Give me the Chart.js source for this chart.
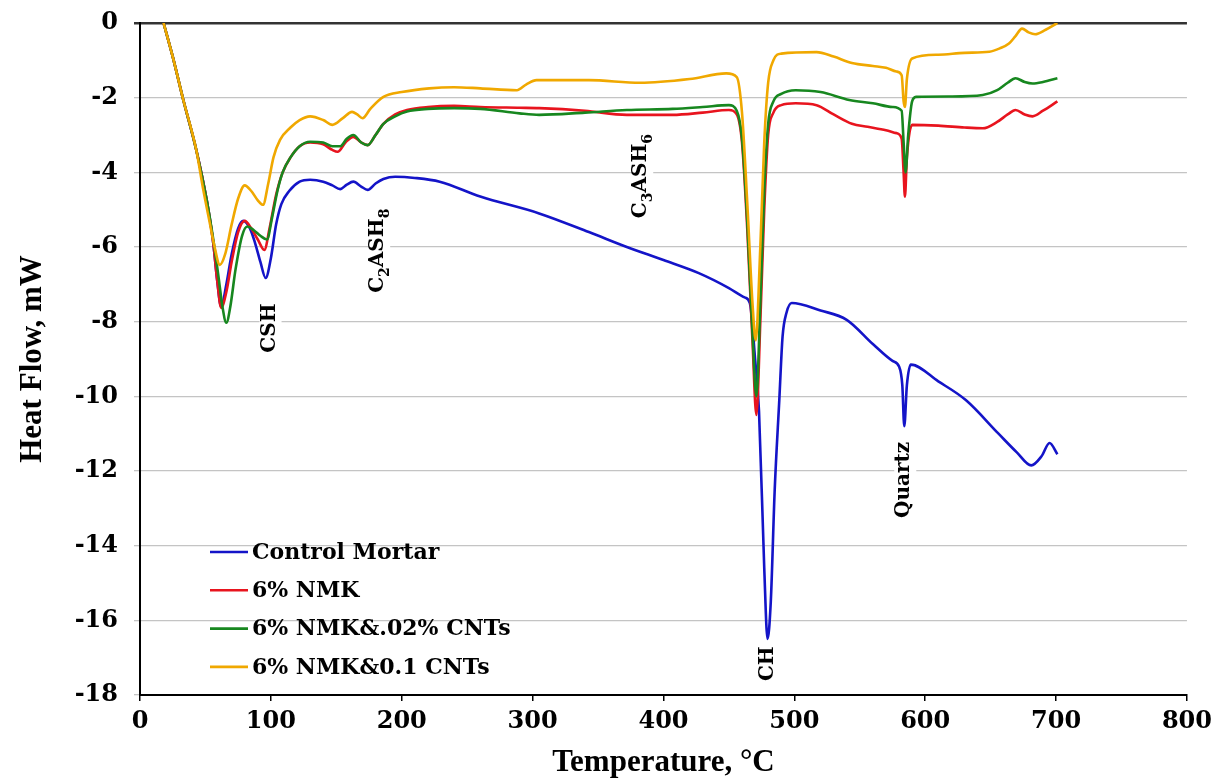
<!DOCTYPE html>
<html>
<head>
<meta charset="utf-8">
<script src="https://cdn.jsdelivr.net/npm/chart.js@4.4.1/dist/chart.umd.min.js"></script>
<style>
  body { margin: 0; background: #fff; }
  canvas { display: block; }
</style>
</head>
<body>
<canvas id="dsc" width="1218" height="784"></canvas>
<script>
// DSC curves, temperature (°C) against heat flow (mW)
const controlT = [18, 25, 33, 43, 51, 56, 59, 62, 66, 70, 75, 79, 84, 88, 92, 96, 100, 104, 108, 114, 122, 130, 140, 147, 153, 158, 163, 169, 174, 180, 186, 195, 210, 229, 260, 305, 343, 372, 400, 427, 450, 462, 466, 470, 473, 477, 479.5, 482, 485, 488.5, 491, 494, 498, 520, 540, 560, 575, 580, 582.5, 584, 586, 589, 610, 631, 656, 670, 681, 689, 695, 701];
const controlH = [0, -0.9, -2.05, -3.4, -4.75, -5.9, -6.9, -7.6, -7.0, -6.2, -5.5, -5.3, -5.5, -5.9, -6.4, -6.83, -6.3, -5.4, -4.85, -4.5, -4.25, -4.2, -4.25, -4.35, -4.45, -4.33, -4.25, -4.38, -4.47, -4.3, -4.18, -4.12, -4.15, -4.25, -4.65, -5.1, -5.6, -6.0, -6.35, -6.7, -7.1, -7.35, -7.5, -9.0, -10.4, -14.6, -16.5, -15.5, -12.5, -10.1, -8.4, -7.76, -7.5, -7.7, -7.95, -8.6, -9.05, -9.2, -9.7, -10.8, -9.7, -9.15, -9.6, -10.1, -11.0, -11.5, -11.85, -11.6, -11.25, -11.55];

const nmkT = [18, 25, 33, 43, 51, 56, 59, 62, 66, 70, 75, 80, 85, 90, 95, 99, 104, 109, 115, 122, 130, 140, 147, 151, 157, 163, 169, 174, 180, 186, 195, 204, 220, 240, 260, 290, 305, 340, 372, 407, 430, 450, 456, 460, 464, 468, 471, 474, 477, 480, 484, 490, 501, 517, 530, 544, 556, 570, 578, 582, 583.5, 584.5, 586, 590, 610, 630, 644, 655, 663, 669, 676, 682, 690, 701];
const nmkH = [0, -0.9, -2.05, -3.4, -4.75, -5.9, -6.9, -7.63, -7.2, -6.4, -5.6, -5.3, -5.5, -5.8, -6.08, -5.5, -4.6, -4.0, -3.6, -3.3, -3.2, -3.25, -3.4, -3.45, -3.2, -3.05, -3.2, -3.27, -3.0, -2.7, -2.45, -2.33, -2.25, -2.22, -2.25, -2.27, -2.28, -2.35, -2.46, -2.46, -2.4, -2.33, -2.45, -3.2, -5.5, -8.5, -10.5, -8.0, -5.0, -3.0, -2.4, -2.2, -2.15, -2.2, -2.45, -2.7, -2.78, -2.87, -2.95, -3.1, -4.0, -4.65, -3.6, -2.73, -2.75, -2.8, -2.82, -2.65, -2.45, -2.33, -2.45, -2.5, -2.35, -2.1];

const cnt02T = [18, 25, 33, 43, 51, 56, 60, 63, 66, 69, 73, 78, 82, 87, 92, 97, 101, 105, 109, 115, 122, 130, 140, 147, 153, 158, 163, 169, 174, 180, 186, 195, 204, 220, 240, 260, 290, 305, 340, 372, 407, 430, 450, 456, 460, 464, 468, 471, 474, 477, 480, 484, 490, 501, 520, 542, 560, 575, 582, 583.5, 585, 587, 590, 593, 620, 644, 655, 663, 669, 676, 682, 690, 701];
const cnt02H = [0, -0.9, -2.05, -3.4, -4.75, -5.8, -6.8, -7.6, -8.03, -7.6, -6.6, -5.7, -5.45, -5.55, -5.7, -5.8, -5.2, -4.5, -4.0, -3.6, -3.3, -3.18, -3.2, -3.3, -3.3, -3.1, -3.0, -3.2, -3.27, -3.0, -2.7, -2.5, -2.37, -2.3, -2.28, -2.3, -2.42, -2.46, -2.4, -2.33, -2.3, -2.25, -2.2, -2.35, -3.1, -5.3, -8.3, -10.0, -7.5, -4.5, -2.7, -2.1, -1.9, -1.8, -1.85, -2.06, -2.15, -2.25, -2.35, -3.2, -4.0, -3.0, -2.1, -1.98, -1.97, -1.93, -1.8, -1.6, -1.48, -1.58, -1.62, -1.58, -1.48];

const cnt01T = [18, 25, 33, 43, 48, 53, 57, 61, 65, 70, 75, 80, 85, 90, 94, 98, 102, 107, 115, 122, 130, 140, 147, 155, 162, 166, 170, 176, 186, 200, 221, 240, 260, 288, 295, 303, 343, 382, 420, 448, 456, 460, 464, 468, 470.5, 474, 477, 480, 484, 490, 517, 530, 544, 560, 570, 578, 582, 583.5, 584.5, 586, 590, 610, 630, 649, 657, 664, 669, 674, 679, 684, 692, 701];
const cnt01H = [0, -0.9, -2.05, -3.4, -4.4, -5.3, -6.0, -6.48, -6.2, -5.4, -4.7, -4.35, -4.5, -4.75, -4.87, -4.3, -3.6, -3.13, -2.8, -2.6, -2.5, -2.6, -2.73, -2.55, -2.38, -2.45, -2.55, -2.3, -1.98, -1.85, -1.75, -1.72, -1.75, -1.8, -1.65, -1.53, -1.53, -1.6, -1.5, -1.35, -1.45, -2.4, -4.8, -7.5, -8.5, -6.0, -3.2, -1.6, -1.0, -0.82, -0.78, -0.9, -1.07, -1.15, -1.2, -1.3, -1.4, -2.1, -2.25, -1.5, -0.95, -0.85, -0.8, -0.77, -0.68, -0.55, -0.35, -0.15, -0.25, -0.3, -0.18, 0];

const seriesNames = ['Control Mortar', '6% NMK', '6% NMK&.02% CNTs', '6% NMK&0.1 CNTs'];
const seriesColors = ['#1414c8', '#e8141e', '#17871f', '#f0a800'];

// peak labels; "_n" marks a subscript
const peakNames = ['CSH', 'C_2ASH_8', 'C_3ASH_6', 'CH', 'Quartz'];
const peakTemps = [99, 182, 383, 480, 584];
const peakHeats = [-8.17, -6.1, -4.1, -17.16, -12.24];

const pts = (xs, ys) => xs.map((x, i) => ({ x: x, y: ys[i] }));
const allT = [controlT, nmkT, cnt02T, cnt01T];
const allH = [controlH, nmkH, cnt02H, cnt01H];

const datasets = seriesNames.map((name, i) => ({
    label: name,
    data: pts(allT[i], allH[i]),
    borderColor: seriesColors[i],
    borderWidth: 2.6,
    pointRadius: 0,
    cubicInterpolationMode: 'monotone',
    order: 4 - i,
}));

const legendPlugin = {
    id: 'insideLegend',
    afterDatasetsDraw(chart) {
        const ctx = chart.ctx;
        const area = chart.chartArea;
        ctx.save();
        ctx.font = 'bold 22px "DejaVu Serif"';
        ctx.textBaseline = 'middle';
        seriesNames.forEach((name, i) => {
            const y = area.bottom - 143 + i * 38.3;
            const x = area.left + 70;
            ctx.strokeStyle = seriesColors[i];
            ctx.lineWidth = 2.6;
            ctx.beginPath();
            ctx.moveTo(x, y);
            ctx.lineTo(x + 38, y);
            ctx.stroke();
            ctx.fillStyle = '#000';
            ctx.fillText(name, x + 42, y + 1);
        });
        ctx.restore();
    }
};

const peakPlugin = {
    id: 'peakLabels',
    afterDatasetsDraw(chart) {
        const ctx = chart.ctx;
        const xs = chart.scales.x, ys = chart.scales.y;
        ctx.save();
        ctx.textBaseline = 'middle';
        peakNames.forEach((label, i) => {
            const parts = label.split(/(_\d)/).filter(p => p.length);
            const px = xs.getPixelForValue(peakTemps[i]);
            const py = ys.getPixelForValue(peakHeats[i]);
            let total = 0;
            const widths = parts.map(p => {
                ctx.font = p[0] === '_' ? 'bold 14px "DejaVu Serif"' : 'bold 20px "DejaVu Serif"';
                const w = ctx.measureText(p.replace('_', '')).width;
                total += w;
                return w;
            });
            ctx.translate(px, py);
            ctx.rotate(-Math.PI / 2);
            ctx.fillStyle = '#fff';
            ctx.fillRect(-total / 2 - 3, -10, total + 6, 22);
            ctx.fillStyle = '#000';
            let cx = -total / 2;
            parts.forEach((p, k) => {
                const sub = p[0] === '_';
                ctx.font = sub ? 'bold 14px "DejaVu Serif"' : 'bold 20px "DejaVu Serif"';
                ctx.fillText(p.replace('_', ''), cx, sub ? 7 : 0);
                cx += widths[k];
            });
            ctx.setTransform(1, 0, 0, 1, 0, 0);
        });
        ctx.restore();
    }
};

const tickFont = { family: '"DejaVu Serif"', size: 24, weight: 'bold' };
const titleFont = { family: '"Liberation Serif"', size: 31, weight: 'bold' };

new Chart(document.getElementById('dsc').getContext('2d'), {
    type: 'line',
    data: { datasets: datasets },
    options: {
        responsive: false,
        animation: false,
        layout: { padding: { top: 23, right: 30, left: 0, bottom: 0 } },
        plugins: {
            legend: { display: false },
            tooltip: { enabled: false },
        },
        scales: {
            x: {
                type: 'linear',
                min: 0,
                max: 800,
                ticks: { stepSize: 100, color: '#000', font: tickFont, padding: 6, maxRotation: 0 },
                grid: { drawOnChartArea: false, tickLength: 6, color: '#000', lineWidth: 1.5 },
                border: { color: '#000', width: 2 },
                title: { display: true, text: 'Temperature, °C', color: '#000', font: titleFont, padding: { top: 0, bottom: 2 } },
                afterFit: s => { s.height = 89; },
            },
            y: {
                min: -18,
                max: 0,
                ticks: { stepSize: 2, color: '#000', font: tickFont, padding: 16 },
                grid: {
                    tickLength: 6,
                    color: c => (c.tick && c.tick.value === 0) ? '#333' : '#c4c4c4',
                    lineWidth: c => (c.tick && c.tick.value === 0) ? 2.5 : 1.3,
                },
                border: { color: '#000', width: 2 },
                title: { display: true, text: 'Heat Flow, mW', color: '#000', font: titleFont, padding: { top: 14, bottom: 0 } },
                afterFit: s => { s.width = 140; s.paddingTop = 0; s.paddingBottom = 0; },
            },
        },
    },
    plugins: [legendPlugin, peakPlugin],
});
</script>
</body>
</html>
